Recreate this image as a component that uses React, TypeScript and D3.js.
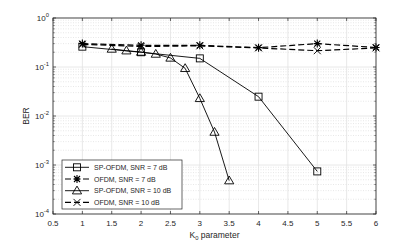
import React from "react";
import * as d3 from "d3";

// SP-OFDM, SNR = 7 dB
const spOfdm7K = [1, 2, 3, 4, 5];
const spOfdm7Ber = [0.26, 0.2, 0.15, 0.0248, 0.00074];

// OFDM, SNR = 7 dB
const ofdm7K = [1, 2, 3, 4, 5, 6];
const ofdm7Ber = [0.3, 0.277, 0.277, 0.248, 0.3, 0.25];

// SP-OFDM, SNR = 10 dB
const spOfdm10K = [1.5, 1.75, 2, 2.25, 2.5, 2.75, 3, 3.25, 3.5];
const spOfdm10Ber = [0.233, 0.215, 0.202, 0.184, 0.153, 0.094, 0.0229, 0.0047, 0.00048];

// OFDM, SNR = 10 dB
const ofdm10K = [1, 2, 3, 4, 5, 6];
const ofdm10Ber = [0.29, 0.262, 0.27, 0.245, 0.215, 0.245];

const xTicks = [0.5, 1, 1.5, 2, 2.5, 3, 3.5, 4, 4.5, 5, 5.5, 6];
const yExps = [0, -1, -2, -3, -4];

type Series = {
  name: string;
  k: number[];
  ber: number[];
  dashed: boolean;
  marker: "square" | "asterisk" | "triangle" | "x";
};

const series: Series[] = [
  { name: "SP-OFDM, SNR = 7 dB", k: spOfdm7K, ber: spOfdm7Ber, dashed: false, marker: "square" },
  { name: "OFDM, SNR = 7 dB", k: ofdm7K, ber: ofdm7Ber, dashed: true, marker: "asterisk" },
  { name: "SP-OFDM, SNR = 10 dB", k: spOfdm10K, ber: spOfdm10Ber, dashed: false, marker: "triangle" },
  { name: "OFDM, SNR = 10 dB", k: ofdm10K, ber: ofdm10Ber, dashed: true, marker: "x" },
];

const W = 415;
const H = 245;
const margin = { top: 18, right: 39, bottom: 31, left: 53 };
const FONT = "Liberation Sans, Arial, sans-serif";
const TEXT = "#262626";

function Marker({ type, x, y }: { type: Series["marker"]; x: number; y: number }) {
  const s = 3.5;
  if (type === "square")
    return <rect x={x - s} y={y - s} width={2 * s} height={2 * s} fill="none" stroke="#000" strokeWidth={0.9} />;
  if (type === "triangle")
    return (
      <path
        d={`M${x},${y - 4.6} L${x + 4.6},${y + 3.2} L${x - 4.6},${y + 3.2} Z`}
        fill="none"
        stroke="#000"
        strokeWidth={0.9}
      />
    );
  if (type === "x")
    return (
      <path d={`M${x - s},${y - s} L${x + s},${y + s} M${x - s},${y + s} L${x + s},${y - s}`} stroke="#000" strokeWidth={0.9} />
    );
  // asterisk
  const a = 3;
  return (
    <path
      d={`M${x - a},${y - a} L${x + a},${y + a} M${x - a},${y + a} L${x + a},${y - a} M${x},${y - 4} L${x},${y + 4} M${x - 3.6},${y} L${x + 3.6},${y}`}
      stroke="#000"
      strokeWidth={1.1}
    />
  );
}

export default function App() {
  const x = d3.scaleLinear().domain([0.5, 6]).range([margin.left, W - margin.right]);
  const y = d3.scaleLog().domain([1e-4, 1]).range([H - margin.bottom, margin.top]);
  const [x0, x1] = x.range();
  const [y0, y1] = y.range();

  const minorY: number[] = [];
  for (let e = -4; e < 0; e++) for (let m = 2; m <= 9; m++) minorY.push(m * Math.pow(10, e));

  const line = d3
    .line<[number, number]>()
    .x((d) => x(d[0]))
    .y((d) => y(d[1]));

  const legX = 62;
  const legY = 160;
  const rowH = 11.7;

  return (
    <svg width={W} height={H} style={{ position: "absolute", left: 0, top: 0, background: "#fff" }}>
      <rect x={0} y={0} width={W} height={H} fill="#fff" />
      {/* minor grid */}
      {minorY.map((v, i) => (
        <line key={"mg" + i} x1={x0} x2={x1} y1={y(v)} y2={y(v)} stroke="#d8d8d8" strokeWidth={0.6} strokeDasharray="1,1.5" />
      ))}
      {/* major grid */}
      {xTicks.map((t) => (
        <line key={"gx" + t} x1={x(t)} x2={x(t)} y1={y1} y2={y0} stroke="#e2e2e2" strokeWidth={0.8} />
      ))}
      {yExps.map((e) => (
        <line key={"gy" + e} x1={x0} x2={x1} y1={y(Math.pow(10, e))} y2={y(Math.pow(10, e))} stroke="#e2e2e2" strokeWidth={0.8} />
      ))}

      {/* series */}
      {series.map((s) => {
        const pts = s.k.map((k, i) => [k, s.ber[i]] as [number, number]);
        return (
          <g key={s.name}>
            <path
              d={line(pts) ?? ""}
              fill="none"
              stroke="#000"
              strokeWidth={s.dashed ? 1.2 : 0.9}
              strokeDasharray={s.dashed ? "6,3" : undefined}
            />
            {pts.map((p, i) => (
              <Marker key={i} type={s.marker} x={x(p[0])} y={y(p[1])} />
            ))}
          </g>
        );
      })}

      {/* axes box */}
      <rect x={x0} y={y1} width={x1 - x0} height={y0 - y1} fill="none" stroke="#262626" strokeWidth={0.8} />
      {xTicks.map((t) => (
        <g key={"tx" + t}>
          <line x1={x(t)} x2={x(t)} y1={y0} y2={y0 - 3} stroke="#262626" strokeWidth={0.7} />
          <line x1={x(t)} x2={x(t)} y1={y1} y2={y1 + 3} stroke="#262626" strokeWidth={0.7} />
          <text x={x(t)} y={y0 + 12} textAnchor="middle" fontFamily={FONT} fontSize={8} fill={TEXT}>
            {t}
          </text>
        </g>
      ))}
      {yExps.map((e) => (
        <g key={"ty" + e}>
          <line x1={x0} x2={x0 + 3} y1={y(Math.pow(10, e))} y2={y(Math.pow(10, e))} stroke="#262626" strokeWidth={0.7} />
          <line x1={x1} x2={x1 - 3} y1={y(Math.pow(10, e))} y2={y(Math.pow(10, e))} stroke="#262626" strokeWidth={0.7} />
          <text x={x0 - 4} y={y(Math.pow(10, e)) + 3} textAnchor="end" fontFamily={FONT} fontSize={8} fill={TEXT}>
            10
            <tspan fontSize={5.8} dy={-4}>
              {e}
            </tspan>
          </text>
        </g>
      ))}
      {minorY.map((v, i) => (
        <g key={"mt" + i}>
          <line x1={x0} x2={x0 + 1.8} y1={y(v)} y2={y(v)} stroke="#262626" strokeWidth={0.5} />
          <line x1={x1} x2={x1 - 1.8} y1={y(v)} y2={y(v)} stroke="#262626" strokeWidth={0.5} />
        </g>
      ))}

      {/* axis labels */}
      <text
        transform={`translate(29,${(y0 + y1) / 2}) rotate(-90)`}
        textAnchor="middle"
        fontFamily={FONT}
        fontSize={8.5}
        fill={TEXT}
      >
        BER
      </text>
      <text x={(x0 + x1) / 2} y={238} textAnchor="middle" fontFamily={FONT} fontSize={8.5} fill={TEXT}>
        K
        <tspan fontSize={5.8} dy={2}>
          0
        </tspan>
        <tspan dy={-2}> parameter</tspan>
      </text>

      {/* legend */}
      <rect x={legX} y={legY} width={120} height={49} fill="#fff" stroke="#262626" strokeWidth={0.7} />
      {series.map((s, i) => {
        const ry = legY + 7.3 + i * rowH;
        return (
          <g key={"lg" + s.name}>
            <line
              x1={legX + 3}
              x2={legX + 27}
              y1={ry}
              y2={ry}
              stroke="#000"
              strokeWidth={s.dashed ? 1.2 : 0.9}
              strokeDasharray={s.dashed ? "6,3" : undefined}
            />
            <Marker type={s.marker} x={legX + 15} y={ry} />
            <text x={legX + 32} y={ry + 2.5} fontFamily={FONT} fontSize={7} fill={TEXT}>
              {s.name}
            </text>
          </g>
        );
      })}
    </svg>
  );
}
